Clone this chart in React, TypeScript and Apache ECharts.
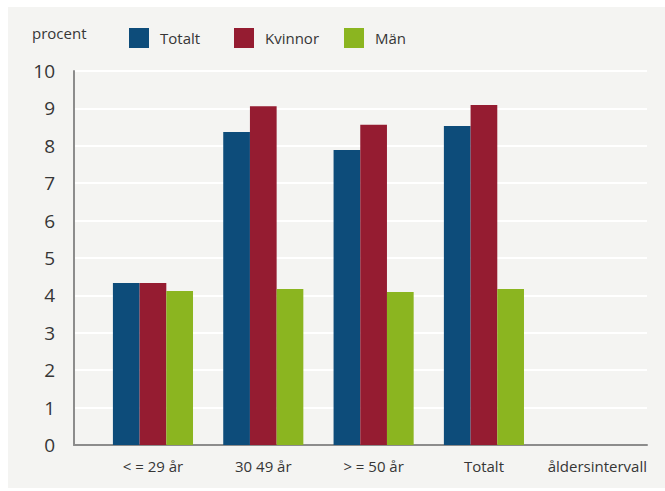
import React, { useEffect, useRef } from "react";
import * as echarts from "echarts";

const categories = ["< = 29 år", "30 49 år", "> = 50 år", "Totalt"];
const totalt = [4.33, 8.37, 7.89, 8.53];
const kvinnor = [4.33, 9.06, 8.56, 9.09];
const man = [4.12, 4.17, 4.09, 4.17];
const seriesNames = ["Totalt", "Kvinnor", "Män"];
const colors = ["#0d4c7a", "#951c31", "#8bb520"];
const yTicks = [0, 1, 2, 3, 4, 5, 6, 7, 8, 9, 10];

const FONT = "'Open Sans', sans-serif";
const TEXT = "#363636";

export default function App() {
  const ref = useRef<HTMLDivElement>(null);
  useEffect(() => {
    if (!ref.current) return;
    const chart = echarts.init(ref.current, undefined, { renderer: "svg" });
    const legendLefts = [121, 226, 336];
    chart.setOption({
      animation: false,
      backgroundColor: "#f4f4f2",
      textStyle: { fontFamily: FONT, color: TEXT },
      title: {
        text: "procent",
        left: 24,
        top: 18,
        padding: 0,
        textStyle: { fontFamily: FONT, fontSize: 15, fontWeight: "normal", color: TEXT },
      },
      legend: seriesNames.map((n, i) => ({
        data: [n],
        left: legendLefts[i],
        top: 21,
        padding: 0,
        itemWidth: 20,
        itemHeight: 20,
        icon: "rect",
        selectedMode: false,
        textStyle: { fontFamily: FONT, fontSize: 15, color: TEXT, padding: [12, 0, 0, 6] },
      })),
      grid: [
        { left: 66, right: 18, top: 64, bottom: 43 },
        { left: 89.8, width: 441.3, top: 64, bottom: 43 },
      ],
      xAxis: [
        {
          gridIndex: 0,
          type: "value",
          min: 0,
          max: 1,
          axisLine: { show: true, lineStyle: { color: "#8c8c8c", width: 2 } },
          axisTick: { show: false },
          axisLabel: { show: false },
          splitLine: { show: false },
          name: "åldersintervall",
          nameLocation: "end",
          nameGap: 0,
          nameTextStyle: {
            fontFamily: FONT,
            fontSize: 15,
            color: TEXT,
            align: "right",
            verticalAlign: "top",
            padding: [13, 0, 0, 0],
          },
        },
        {
          gridIndex: 1,
          type: "category",
          data: categories,
          axisLine: { show: false },
          axisTick: { show: false },
          axisLabel: { fontFamily: FONT, fontSize: 15, color: TEXT, margin: 13 },
        },
      ],
      yAxis: [
        {
          gridIndex: 0,
          type: "value",
          min: yTicks[0],
          max: yTicks[yTicks.length - 1],
          interval: 1,
          axisLine: { show: true, lineStyle: { color: "#8c8c8c", width: 2 } },
          axisTick: { show: false },
          axisLabel: { fontFamily: FONT, fontSize: 19, color: TEXT, margin: 19 },
          splitLine: { show: true, lineStyle: { color: "#ffffff", width: 2 } },
        },
        {
          gridIndex: 1,
          type: "value",
          min: yTicks[0],
          max: yTicks[yTicks.length - 1],
          show: false,
          splitLine: { show: false },
        },
      ],
      series: [totalt, kvinnor, man].map((d, i) => ({
        name: seriesNames[i],
        type: "bar",
        xAxisIndex: 1,
        yAxisIndex: 1,
        data: d,
        barWidth: 26.7,
        barGap: "0%",
        itemStyle: { color: colors[i] },
      })),
    });
    return () => chart.dispose();
  }, []);
  return (
    <div
      ref={ref}
      style={{ position: "fixed", left: 8, top: 7, width: 657, height: 481 }}
    />
  );
}
